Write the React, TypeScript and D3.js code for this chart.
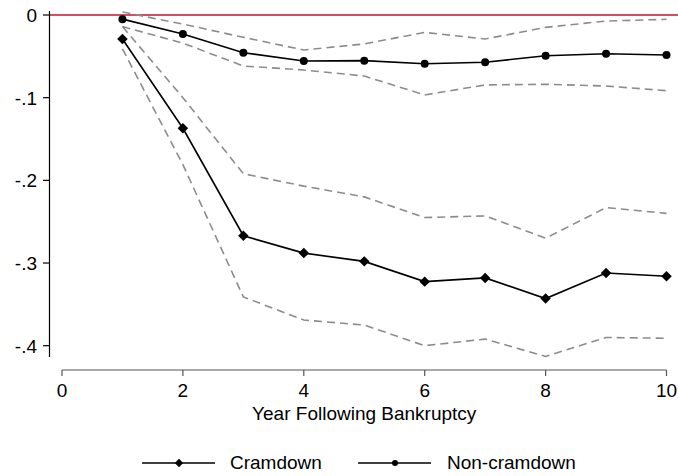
import { useEffect, useRef } from 'react';
import * as d3 from 'd3';

const years = [1, 2, 3, 4, 5, 6, 7, 8, 9, 10];

const cramdown = [-0.029, -0.137, -0.267, -0.288, -0.298, -0.3225, -0.318, -0.343, -0.312, -0.316];
const cramdownHi = [-0.014, -0.100, -0.192, -0.207, -0.220, -0.245, -0.243, -0.270, -0.233, -0.240];
const cramdownLo = [-0.041, -0.181, -0.341, -0.369, -0.375, -0.400, -0.392, -0.413, -0.390, -0.391];

const nonCramdown = [-0.005, -0.023, -0.0456, -0.0556, -0.0552, -0.0589, -0.0572, -0.0492, -0.0468, -0.0484];
const nonCramdownHi = [0.0036, -0.011, -0.027, -0.0423, -0.035, -0.021, -0.029, -0.015, -0.0073, -0.0052];
const nonCramdownLo = [-0.014, -0.034, -0.0617, -0.0665, -0.0738, -0.0967, -0.0846, -0.0838, -0.0859, -0.0915];

const xTicks = [0, 2, 4, 6, 8, 10];
const yTicks = [0, -0.1, -0.2, -0.3, -0.4];
const yTickLabels = ['0', '-.1', '-.2', '-.3', '-.4'];

export default function App() {
  const svgRef = useRef<SVGSVGElement>(null);

  useEffect(() => {
    if (!svgRef.current) return;
    const svg = d3.select(svgRef.current);
    svg.selectAll('*').remove();

    const font = 'Liberation Sans, Arial, sans-serif';
    const fs = 19;
    const x = d3.scaleLinear().domain([0, 10]).range([62, 666.5]);
    const y = d3.scaleLinear().domain([0, -0.4]).range([15, 345.7]);

    // zero reference line
    svg.append('line')
      .attr('x1', 50).attr('x2', 678)
      .attr('y1', y(0)).attr('y2', y(0))
      .attr('stroke', '#c8102e').attr('stroke-width', 1.6);

    // y axis
    svg.append('line')
      .attr('x1', 49.5).attr('x2', 49.5).attr('y1', 11).attr('y2', 357)
      .attr('stroke', '#000').attr('stroke-width', 1.2);
    yTicks.forEach((t, i) => {
      svg.append('line')
        .attr('x1', 43).attr('x2', 49.5).attr('y1', y(t)).attr('y2', y(t))
        .attr('stroke', '#000').attr('stroke-width', 1.2);
      svg.append('text')
        .attr('x', 37).attr('y', y(t)).attr('dy', '0.36em')
        .attr('text-anchor', 'end')
        .attr('font-family', font).attr('font-size', fs)
        .text(yTickLabels[i]);
    });

    // x axis
    svg.append('line')
      .attr('x1', x(0)).attr('x2', x(10)).attr('y1', 370).attr('y2', 370)
      .attr('stroke', '#555').attr('stroke-width', 1.2);
    xTicks.forEach((t) => {
      svg.append('line')
        .attr('x1', x(t)).attr('x2', x(t)).attr('y1', 370).attr('y2', 376)
        .attr('stroke', '#555').attr('stroke-width', 1.2);
      svg.append('text')
        .attr('x', x(t)).attr('y', 397)
        .attr('text-anchor', 'middle')
        .attr('font-family', font).attr('font-size', fs)
        .text(t);
    });
    svg.append('text')
      .attr('x', x(5)).attr('y', 420)
      .attr('text-anchor', 'middle')
      .attr('font-family', font).attr('font-size', fs)
      .text('Year Following Bankruptcy');

    const line = d3.line<number>()
      .x((_, i) => x(years[i]))
      .y((d) => y(d));

    [cramdownHi, cramdownLo, nonCramdownHi, nonCramdownLo].forEach((s) => {
      svg.append('path')
        .attr('d', line(s))
        .attr('fill', 'none')
        .attr('stroke', '#8c8c8c')
        .attr('stroke-width', 1.6)
        .attr('stroke-dasharray', '8,5');
    });

    const diamond = d3.symbol().type(d3.symbolDiamond2).size(70);

    svg.append('path')
      .attr('d', line(cramdown))
      .attr('fill', 'none').attr('stroke', '#000').attr('stroke-width', 1.6);
    svg.selectAll('.dia')
      .data(cramdown)
      .enter()
      .append('path')
      .attr('d', diamond)
      .attr('transform', (d, i) => `translate(${x(years[i])},${y(d)})`)
      .attr('fill', '#000');

    svg.append('path')
      .attr('d', line(nonCramdown))
      .attr('fill', 'none').attr('stroke', '#000').attr('stroke-width', 1.6);
    svg.selectAll('.dot')
      .data(nonCramdown)
      .enter()
      .append('circle')
      .attr('cx', (d, i) => x(years[i]))
      .attr('cy', (d) => y(d))
      .attr('r', 4)
      .attr('fill', '#000');

    // legend
    const ly = 463;
    svg.append('line')
      .attr('x1', 142).attr('x2', 215).attr('y1', ly).attr('y2', ly)
      .attr('stroke', '#000').attr('stroke-width', 1.6);
    svg.append('path')
      .attr('d', d3.symbol().type(d3.symbolDiamond2).size(45))
      .attr('transform', `translate(179,${ly})`)
      .attr('fill', '#000');
    svg.append('text')
      .attr('x', 230).attr('y', 468.5)
      .attr('font-family', font).attr('font-size', fs)
      .text('Cramdown');

    svg.append('line')
      .attr('x1', 358).attr('x2', 431).attr('y1', ly).attr('y2', ly)
      .attr('stroke', '#000').attr('stroke-width', 1.6);
    svg.append('circle')
      .attr('cx', 395).attr('cy', ly).attr('r', 3)
      .attr('fill', '#000');
    svg.append('text')
      .attr('x', 447).attr('y', 468.5)
      .attr('font-family', font).attr('font-size', fs)
      .text('Non-cramdown');
  }, []);

  return (
    <svg
      ref={svgRef}
      width={678}
      height={476}
      style={{ position: 'absolute', left: 0, top: 0, background: '#fff' }}
    />
  );
}
